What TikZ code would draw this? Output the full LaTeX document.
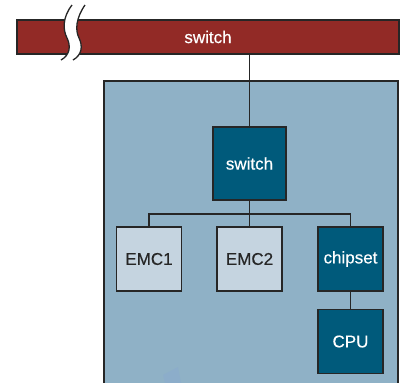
\documentclass[tikz,border=0pt]{standalone}
\usepackage{fontspec}
\setmainfont{Liberation Sans}[UprightFeatures={FakeBold=0.4}]
\definecolor{barred}{HTML}{922A26}
\definecolor{panel}{HTML}{8FB1C6}
\definecolor{darkbox}{HTML}{005A7B}
\definecolor{lightbox}{HTML}{C5D4E0}
\definecolor{edge}{HTML}{262626}
\definecolor{ghost}{HTML}{8CADCA}
\begin{document}
\begin{tikzpicture}[x=1pt,y=-1pt,
  box/.style={draw=edge,line width=1.5pt,minimum width=65pt,minimum height=64pt,inner sep=0pt,font=\fontsize{17}{19}\selectfont},
  darkb/.style={box,fill=darkbox,text=white},
  lightb/.style={box,fill=lightbox,text=edge},
  wire/.style={draw=edge,line width=1.3pt}]
\useasboundingbox (0,0) rectangle (402,383);
\begin{scope}
\clip (0,0) rectangle (402,383);
\draw[draw=edge,line width=1.5pt,fill=panel] (104,81) rectangle (398,400);
\fill[ghost] (163,375) -- (178,367) -- (181,383) -- (165,383) -- cycle;
\end{scope}
\node[draw=edge,line width=1.5pt,fill=barred,minimum width=382pt,minimum height=34pt,inner sep=0pt,text=white,font=\fontsize{17}{19}\selectfont] (bar) at (208,37) {switch};
% break
\fill[white] (72,5) .. controls (62,18) and (63,30) .. (67,38) .. controls (71,46) and (70,55) .. (61,60)
  -- (73,60) .. controls (82,55) and (83,46) .. (79,38) .. controls (75,30) and (76,18) .. (85,5) -- cycle;
\draw[edge,line width=1.3pt] (72,5) .. controls (62,18) and (63,30) .. (67,38) .. controls (71,46) and (70,55) .. (61,60);
\draw[edge,line width=1.3pt] (85,5) .. controls (76,18) and (75,30) .. (79,38) .. controls (83,46) and (82,55) .. (73,60);
\node[darkb,minimum width=73pt,minimum height=73pt] (sw) at (249.5,163.5) {switch};
\node[lightb] (emc1) at (149,259) {EMC1};
\node[lightb] (emc2) at (249.5,259) {EMC2};
\node[darkb] (chip) at (350.5,259) {chipset};
\node[darkb] (cpu) at (350.5,341.5) {CPU};
\coordinate (bus) at (249.5,214);
\draw[wire] (bar.south -| sw.north) -- (sw.north);
\draw[wire] (sw.south) -- (bus);
\draw[wire] (emc1.north) |- (bus) -| (chip.north);
\draw[wire] (bus) -- (emc2.north);
\draw[wire] (chip.south) -- (cpu.north);
\end{tikzpicture}
\end{document}
